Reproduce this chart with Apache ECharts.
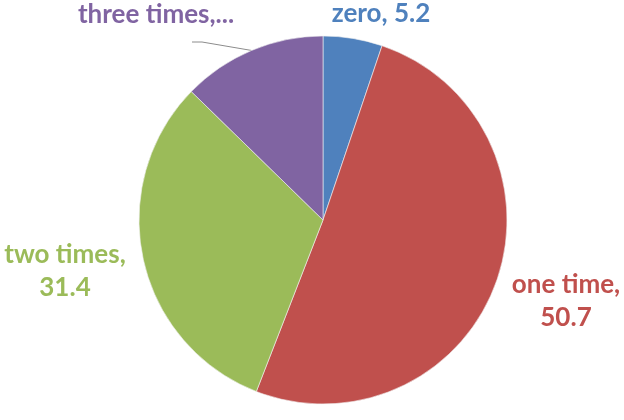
<!DOCTYPE html>
<html>
<head>
<meta charset="utf-8">
<script src="https://cdn.jsdelivr.net/npm/echarts@6/dist/echarts.min.js"></script>
<style>html,body{margin:0;padding:0;background:#fff;}#c{width:624px;height:420px;}</style>
</head>
<body>
<div id="c"></div>
<script>
var categories = ['zero', 'one time', 'two times', 'three times'];
var values = [5.2, 50.7, 31.4, 12.7];
var colors = ['#4F81BD', '#C0504D', '#9BBB59', '#8064A2'];
var labelPos = [[381, 14], [566, 301], [65, 271], [156, 15]];

var chart = echarts.init(document.getElementById('c'));
chart.setOption({
  animation: false,
  series: [{
    type: 'pie',
    center: [323, 220],
    radius: 184,
    startAngle: 90,
    clockwise: true,
    data: categories.map(function (n, i) {
      return {
        name: n, value: values[i],
        itemStyle: { color: colors[i] },
        label: { color: colors[i] },
        labelLine: { show: i === 3 }
      };
    }),
    itemStyle: { borderColor: '#f2f2f2', borderWidth: 0.6 },
    label: {
      show: true,
      fontFamily: 'Lato',
      fontWeight: 'bold',
      fontSize: 26,
      lineHeight: 33,
      align: 'center',
      overflow: 'none',
      formatter: function (p) {
        var i = p.dataIndex;
        if (i === 0) return p.name + ', ' + p.value;
        if (i === 3) return p.name + ',...';
        return p.name + ',\n' + p.value;
      }
    },
    labelLine: { lineStyle: { color: '#8c8c8c', width: 1 }, length: 10, length2: 10 },
    labelLayout: function (params) {
      var pos = labelPos[params.dataIndex];
      var out = { x: pos[0], y: pos[1], align: 'center', verticalAlign: 'middle' };
      if (params.dataIndex === 3 && params.labelLinePoints) {
        var a = params.labelLinePoints[0];
        out.labelLinePoints = [a, [pos[0] + 46, pos[1] + 27], [pos[0] + 36, pos[1] + 27]];
      }
      return out;
    }
  }]
});
</script>
</body>
</html>
